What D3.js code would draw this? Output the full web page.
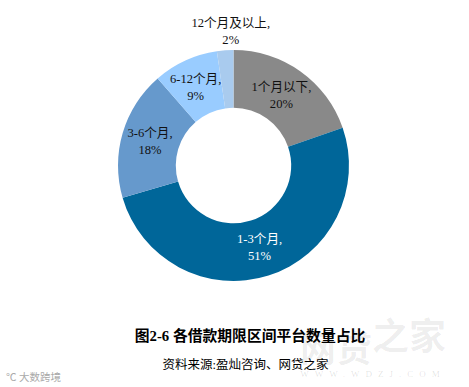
<!DOCTYPE html>
<html>
<head>
<meta charset="utf-8">
<script src="https://cdnjs.cloudflare.com/ajax/libs/d3/7.8.5/d3.min.js"></script>
<style>
body { margin: 0; background: #fff; }
text { font-family: "Liberation Serif", "Noto Sans CJK SC", serif; }
</style>
</head>
<body>
<div id="chart"></div>
<script>
// data
var categories = ["1个月以下,", "1-3个月,", "3-6个月,", "6-12个月,", "12个月及以上,"];
var shares = [19.7, 50.8, 18.1, 9.1, 2.3];
var percentLabels = ["20%", "51%", "18%", "9%", "2%"];
var colors = ["#898989", "#006699", "#6699cc", "#99ccff", "#a9cbee"];
var labelColors = ["#111", "#fff", "#111", "#111", "#111"];
var labelRadius = [86, 86, 86, 86, 135];
var labelShift = [-2, 0, -1, -2, 7];

var width = 469, height = 387;
var cx = 233.5, cy = 165.5, outer = 115.5, inner = 57.7;

var svg = d3.select("#chart").append("svg")
    .attr("width", width)
    .attr("height", height)
    .style("display", "block");

var pie = d3.pie().sort(null).value(function (d) { return d; });
var arc = d3.arc().innerRadius(inner).outerRadius(outer);

var g = svg.append("g").attr("transform", "translate(" + cx + "," + cy + ")");

var slices = pie(shares);

g.selectAll("path")
    .data(slices)
    .enter().append("path")
    .attr("d", arc)
    .attr("fill", function (d, i) { return colors[i]; });

// two line labels, first line is the category, second the percent
var labels = g.selectAll("text.label")
    .data(slices)
    .enter().append("text")
    .attr("class", "label")
    .attr("text-anchor", "middle")
    .attr("font-size", 12.6)
    .attr("fill", function (d, i) { return labelColors[i]; })
    .attr("transform", function (d, i) {
        var c = d3.arc().innerRadius(labelRadius[i]).outerRadius(labelRadius[i]).centroid(d);
        return "translate(" + (c[0] + labelShift[i]) + "," + c[1] + ")";
    });

labels.append("tspan")
    .attr("x", 0)
    .attr("y", -4)
    .text(function (d, i) { return categories[i]; });

labels.append("tspan")
    .attr("x", 0)
    .attr("y", 13)
    .text(function (d, i) { return percentLabels[i]; });

// watermarks first so the caption sits on top
svg.append("text")
    .attr("x", 300)
    .attr("y", 362)
    .attr("font-size", 36)
    .attr("font-weight", "bold")
    .attr("fill", "#000")
    .attr("fill-opacity", 0.07)
    .text("网贷");

svg.append("text")
    .attr("x", 372)
    .attr("y", 350)
    .attr("font-size", 37)
    .attr("font-weight", "bold")
    .attr("fill", "#000")
    .attr("fill-opacity", 0.07)
    .text("之家");

svg.append("text")
    .attr("x", 373)
    .attr("y", 377)
    .attr("text-anchor", "middle")
    .attr("font-size", 9)
    .attr("letter-spacing", 6)
    .attr("fill", "#000")
    .attr("fill-opacity", 0.12)
    .text("WWW.WDZJ.COM");

svg.append("text")
    .attr("x", 6)
    .attr("y", 381)
    .attr("font-size", 10.5)
    .attr("fill", "#aaa")
    .text("℃ 大数跨境");

// caption
svg.append("text")
    .attr("x", 250)
    .attr("y", 341)
    .attr("text-anchor", "middle")
    .attr("font-size", 14.8)
    .attr("font-weight", "bold")
    .attr("fill", "#000")
    .text("图2-6 各借款期限区间平台数量占比");

svg.append("text")
    .attr("x", 245.5)
    .attr("y", 369)
    .attr("text-anchor", "middle")
    .attr("font-size", 12.5)
    .attr("fill", "#000")
    .text("资料来源:盈灿咨询、网贷之家");
</script>
</body>
</html>
